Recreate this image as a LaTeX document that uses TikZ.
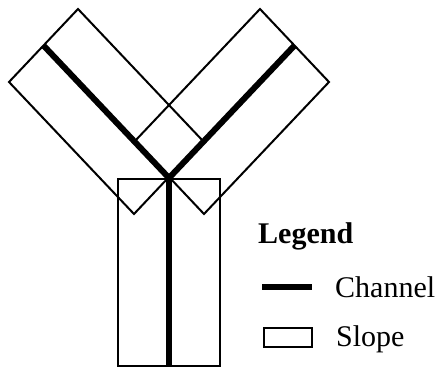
\documentclass[tikz,border=0pt]{standalone}
\usepackage{fontspec}
\setmainfont{Liberation Serif}
\usetikzlibrary{calc}
\begin{document}
\begin{tikzpicture}[x=1pt,y=-1pt,
  slope/.style={draw=black,line width=2pt,line join=miter},
  channel/.style={draw=black,line width=6pt},
  lbl/.style={anchor=base west,inner sep=0pt,font=\fontsize{30}{34}\selectfont}]
\useasboundingbox (0,0) rectangle (437,367);
% left slope
\coordinate (LT) at (78,9);
\coordinate (LL) at (9,82);
\coordinate (LB) at (134,214);
\coordinate (LR) at (203,141);
% right slope (mirror x' = 338 - x)
\coordinate (RT) at (260,9);
\coordinate (RR) at (329,82);
\coordinate (RB) at (204,214);
\coordinate (RL) at (135,141);
\draw[slope] (LT) -- (LL) -- (LB) -- (LR) -- cycle;
\draw[slope] (RT) -- (RR) -- (RB) -- (RL) -- cycle;
% vertical slope
\draw[slope] (118,179) rectangle (220,366);
% channels
\coordinate (cl) at ($(LT)!0.5!(LL)$);
\coordinate (cr) at ($(RT)!0.5!(RR)$);
\coordinate (j) at (169,178);
\coordinate (cb) at (169,367);
\draw[channel] (cl) -- (j);
\draw[channel] (cr) -- (j);
\draw[channel] (j) -- (cb);
% legend
\node[lbl,font=\fontsize{30}{34}\selectfont\bfseries] (leg) at (258,243) {Legend};
\coordinate (la) at (262,287);
\coordinate (lb) at (312,287);
\draw[channel] (la) -- (lb);
\node[lbl] (ch) at (335,297) {Channel};
\draw[slope] (264,328) rectangle (312,347);
\node[lbl] (sl) at (336,346) {Slope};
\end{tikzpicture}
\end{document}
